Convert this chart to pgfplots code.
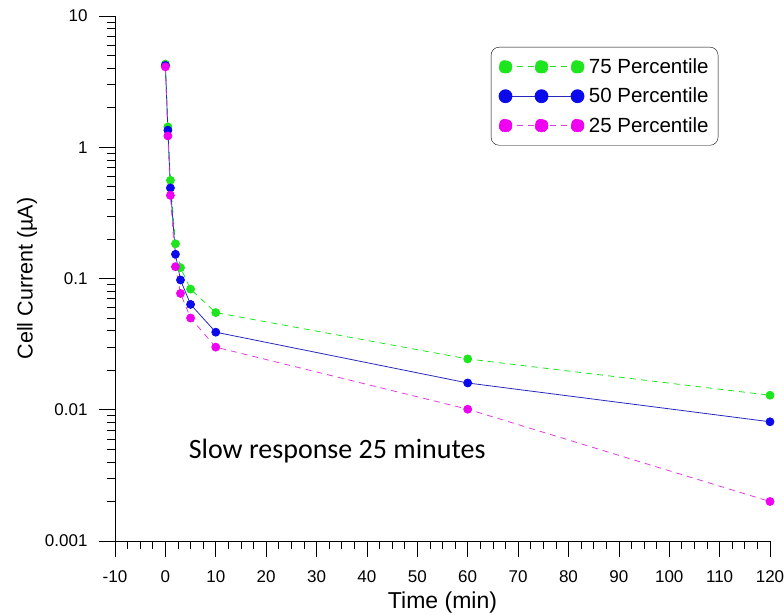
\documentclass[border=0pt]{standalone}
\usepackage{pgfplots}
\pgfplotsset{compat=1.18}
\usepackage{fontspec}
\setmainfont{Liberation Sans}
\newfontfamily\calib{Carlito}
\definecolor{gr}{RGB}{30,230,30}
\definecolor{bl}{RGB}{10,10,235}
\definecolor{blline}{RGB}{40,40,190}
\definecolor{mg}{RGB}{240,0,240}
\definecolor{mgline}{RGB}{225,60,225}
\begin{document}
\begin{tikzpicture}
\useasboundingbox (-115pt,-73pt) rectangle (669pt,541pt);
\begin{axis}[
  at={(0pt,0pt)}, anchor=south west,
  scale only axis, width=655pt, height=525pt,
  ymode=log, xmin=-10, xmax=120, ymin=0.001, ymax=10,
  axis line style={draw=none},
  xtick pos=bottom, ytick pos=left,
  xtick={-10,0,10,20,30,40,50,60,70,80,90,100,110,120},
  xticklabels={-10,0,10,20,30,40,50,60,70,80,90,100,110,120},
  minor x tick num=3,
  ytick={0.001,0.01,0.1,1,10}, yticklabels={0.001,0.01,0.1,1,10},
  tick align=outside, major tick length=16pt, minor tick length=8pt,
  tick style={black, line width=0.7pt},
  /pgf/number format/assume math mode=true,
  tick label style={font=\fontsize{17}{20}\selectfont},
  xticklabel style={yshift=-10pt},
  yticklabel style={xshift=-8pt},
  xlabel={Time (min)}, ylabel={Cell Current (µA)},
  xlabel style={font=\fontsize{23}{26}\selectfont, at={(axis description cs:0.5,0)}, anchor=center, yshift=-62pt},
  ylabel style={font=\fontsize{21.5}{24}\selectfont, at={(axis description cs:0,0.5)}, anchor=center, yshift=88pt},
  clip=false,
  legend style={at={(axis description cs:0.921,0.941)}, anchor=north east,
    draw=black, rounded corners=8pt, fill=white, font=\fontsize{20.5}{23}\selectfont,
    row sep=9pt, inner xsep=7.5pt, inner ysep=9.5pt},
  legend cell align=left,
]
\draw[black, line width=0.8pt] (rel axis cs:0,1) -- (rel axis cs:0,0) -- (rel axis cs:1,0);
\addplot[gr, line width=0.8pt, dash pattern=on 6pt off 5pt, mark=*, mark size=4pt, mark options={solid, fill=gr, draw=gr},
  legend image code/.code={
    \draw[gr, line width=0.8pt, dash pattern=on 6pt off 5pt] (0pt,0pt) -- (72pt,0pt);
    \fill[gr] (0pt,0pt) circle (6.5pt) (36pt,0pt) circle (6.5pt) (72pt,0pt) circle (6.5pt);
    \path (81pt,0pt);}]
  coordinates {(0,4.3) (0.5,1.43) (1,0.56) (2,0.184) (3,0.121) (5,0.083) (10,0.055) (60,0.0244) (120,0.0129)};
\addlegendentry{75 Percentile}
\addplot[blline, line width=0.8pt, mark=*, mark size=4pt, mark options={solid, fill=bl, draw=bl},
  legend image code/.code={
    \draw[blline, line width=0.8pt] (0pt,0pt) -- (72pt,0pt);
    \fill[bl] (0pt,0pt) circle (6.5pt) (36pt,0pt) circle (6.5pt) (72pt,0pt) circle (6.5pt);
    \path (81pt,0pt);}]
  coordinates {(0,4.2) (0.5,1.35) (1,0.49) (2,0.153) (3,0.0975) (5,0.0635) (10,0.039) (60,0.016) (120,0.0081)};
\addlegendentry{50 Percentile}
\addplot[mgline, line width=0.8pt, dash pattern=on 6pt off 5pt, mark=*, mark size=4pt, mark options={solid, fill=mg, draw=mg},
  legend image code/.code={
    \draw[mgline, line width=0.8pt, dash pattern=on 6pt off 5pt] (0pt,0pt) -- (72pt,0pt);
    \fill[mg] (0pt,0pt) circle (6.5pt) (36pt,0pt) circle (6.5pt) (72pt,0pt) circle (6.5pt);
    \path (81pt,0pt);}]
  coordinates {(0,4.1) (0.5,1.22) (1,0.43) (2,0.123) (3,0.077) (5,0.050) (10,0.030) (60,0.0101) (120,0.0020)};
\addlegendentry{25 Percentile}
\node[font=\calib\fontsize{28}{32}\selectfont] at (axis cs:34.1,0.00485) {Slow response 25 minutes};
\end{axis}
\end{tikzpicture}
\end{document}
